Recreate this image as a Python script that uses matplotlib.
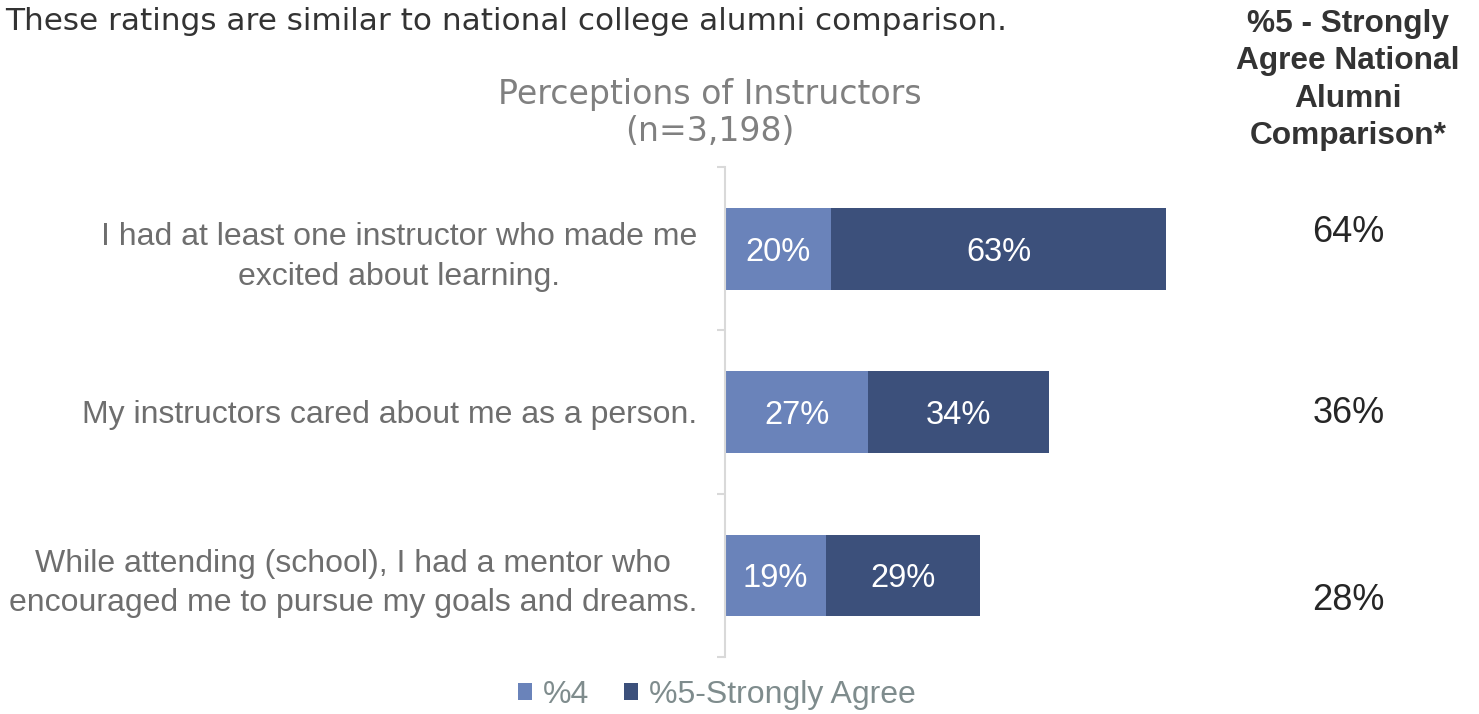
import matplotlib
matplotlib.use("Agg")
import matplotlib.pyplot as plt
import numpy as np

plt.rcParams['font.family'] = ['Liberation Sans', 'DejaVu Sans']

categories = [
    "I had at least one instructor who made me\nexcited about learning.",
    "My instructors cared about me as a person.",
    "While attending (school), I had a mentor who\nencouraged me to pursue my goals and dreams.",
]
pct4 = [20, 27, 19]
pct5 = [63, 34, 29]
national = ["64%", "36%", "28%"]
series_names = ["%4", "%5-Strongly Agree"]

c4 = "#6a83ba"
c5 = "#3c507b"
label_gray = "#6e6e6e"

fig = plt.figure(figsize=(14.79, 7.14), dpi=100)
ax = fig.add_axes([725/1479, (714-657)/714, 531/1479, 490/714])

y = np.arange(len(categories))
b1 = ax.barh(y, pct4, height=0.5, color=c4, label=series_names[0])
b2 = ax.barh(y, pct5, left=pct4, height=0.5, color=c5, label=series_names[1])
for bars, vals in ((b1, pct4), (b2, pct5)):
    txts = ax.bar_label(bars, labels=[f"{v}%" for v in vals], label_type='center',
                        color='white', fontsize=23.5)
    for t in txts:
        t.set_va('center_baseline')

ax.set_xlim(0, 100)
ax.set_ylim(len(categories) - 0.5, -0.5)
ax.set_yticks(np.arange(len(categories) + 1) - 0.5)
ax.set_yticklabels([])
ax.set_yticks(y, minor=True)
ax.set_yticklabels(categories, minor=True, fontsize=23, color=label_gray,
                   ha='right', multialignment='center', linespacing=1.42)
ax.tick_params(axis='y', which='major', length=6, color='#d9d9d9', width=1.5)
ax.tick_params(axis='y', which='minor', length=0, pad=20)
ax.set_xticks([])
for s in ['top', 'right', 'bottom']:
    ax.spines[s].set_visible(False)
ax.spines['left'].set_color('#d9d9d9')
ax.spines['left'].set_linewidth(1.5)

# right column values
ypix = [233, 413, 601]
for yp, txt in zip(ypix, national):
    fig.text(1348.5/1479, 1 - yp/714, txt, ha='center', va='center',
             fontsize=26, color='#262626')

fig.text(1348/1479, 1 - 80/714,
         "%5 - Strongly\nAgree National\nAlumni\nComparison*",
         ha='center', va='center', fontsize=22.8, fontweight='bold',
         color='#333333', linespacing=1.32)

fig.text(5/1479, 1 - 21/714,
         "These ratings are similar to national college alumni comparison.",
         ha='left', va='center', fontsize=22.4, color='#333333',
         family='DejaVu Sans')

fig.text(710/1479, 1 - 113/714, "Perceptions of Instructors\n(n=3,198)",
         ha='center', va='center', fontsize=23.9, color='#808080',
         family='DejaVu Sans', linespacing=1.12)

handles, labels = ax.get_legend_handles_labels()
fig.legend(handles, labels, loc='center', bbox_to_anchor=(717/1479, 1 - 695/714),
           ncol=2, frameon=False, fontsize=23, handlelength=0.42,
           handleheight=0.42, handletextpad=0.35, columnspacing=1.1,
           labelcolor='#7f8c8d', borderpad=0, borderaxespad=0)

fig.savefig("out.png", dpi=100)
